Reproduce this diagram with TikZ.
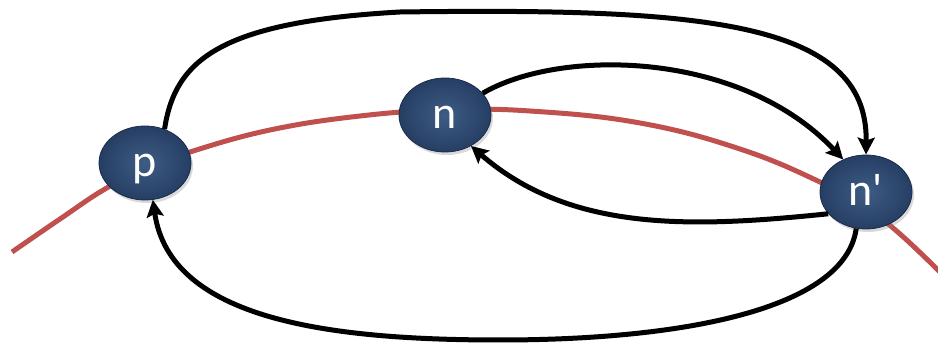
\documentclass[tikz,border=0pt]{standalone}
\usepackage{fontspec}
\setsansfont{Carlito}
\usetikzlibrary{shapes.geometric,arrows.meta,shadows}
\definecolor{arcred}{RGB}{192,80,77}
\definecolor{nodeblue}{RGB}{38,62,100}
\definecolor{nodedark}{RGB}{26,44,74}
\definecolor{nodelight}{RGB}{62,92,132}
\tikzset{
  vertex/.style={ellipse, inner sep=0pt, minimum width=92pt, minimum height=74pt,
    draw=nodedark, line width=0.8pt, inner color=nodelight, outer color=nodeblue,
    drop shadow={shadow xshift=2pt, shadow yshift=-3pt, opacity=0.3},
    text=white, text height=28pt, text depth=0pt,
    font=\sffamily\fontsize{46}{46}\selectfont},
  link/.style={line width=5pt, -{Stealth[length=17pt,width=17pt,inset=3pt]}},
  redarc/.style={arcred, line width=5pt}
}
\begin{document}
\begin{tikzpicture}[x=1pt,y=-1pt]
\useasboundingbox (0,0) rectangle (938,344);
\draw[redarc] plot[smooth, tension=0.7] coordinates {(12,252) (60,219) (105,189) (145,169) (190,152) (270,130) (360,116) (445,110) (530,111) (640,123) (740,149) (820,182) (866,208) (900,234) (942,274)};
\node[vertex] (p) at (145,163) {p};
\node[vertex] (n) at (445,115) {n};
\node[vertex] (np) at (866,192) {n\textquotesingle};
\draw[link] (p.60) .. controls (175,60) and (220,22) .. (400,12) .. controls (700,8) and (868,20) .. (np.90);
\draw[link] (n.30) .. controls (560,48) and (740,50) .. (np.125);
\draw[link] (np.210) .. controls (690,228) and (570,232) .. (n.-50);
\draw[link] (np.-105) .. controls (845,310) and (680,340) .. (500,340) .. controls (330,340) and (170,320) .. (p.-78);
\end{tikzpicture}
\end{document}
